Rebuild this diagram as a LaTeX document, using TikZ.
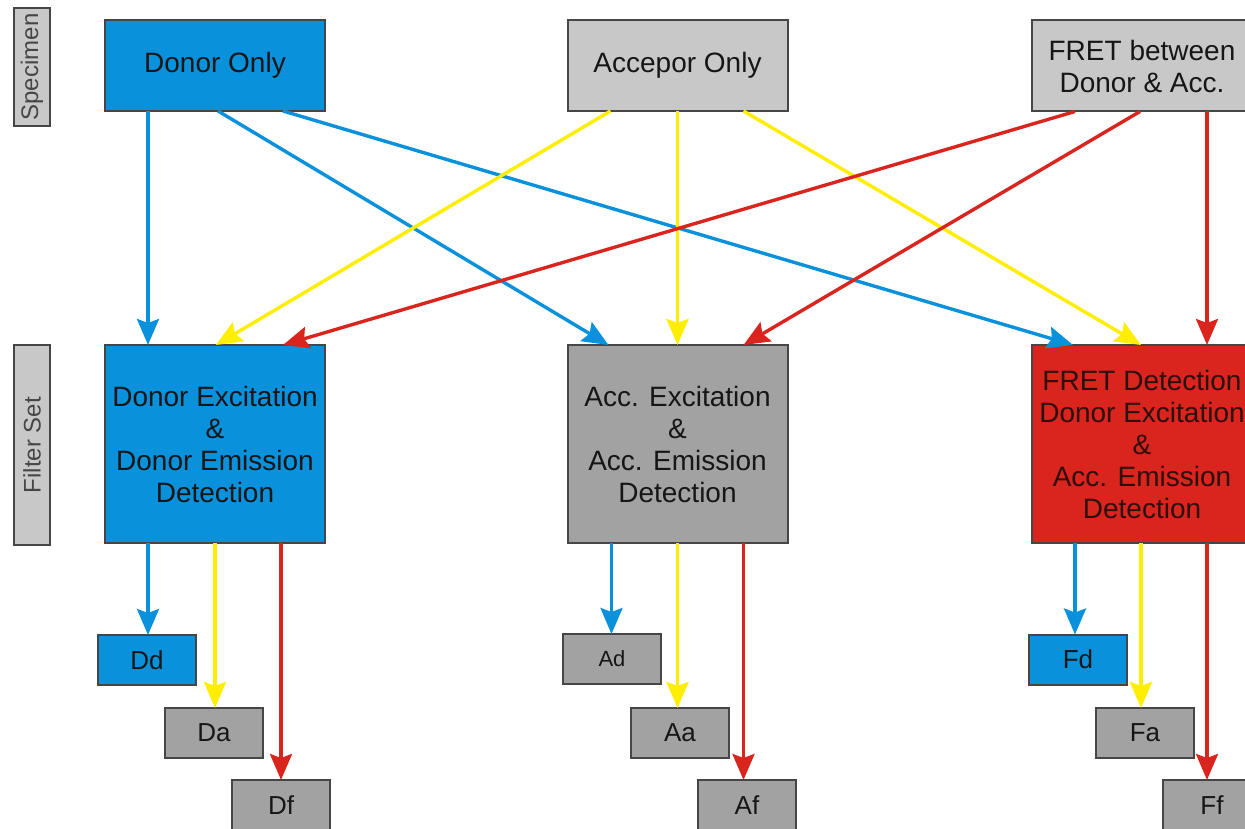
\documentclass[tikz,border=0pt]{standalone}
\usepackage{fontspec}
\setmainfont{Liberation Sans}
\usetikzlibrary{arrows.meta}
\definecolor{cblue}{RGB}{10,145,220}
\definecolor{cyel}{RGB}{255,238,0}
\definecolor{cred}{RGB}{218,36,30}
\definecolor{lgray}{RGB}{200,200,200}
\definecolor{mgray}{RGB}{162,162,162}
\definecolor{bord}{RGB}{70,70,70}
\definecolor{txt}{RGB}{22,22,22}
\begin{document}
\begin{tikzpicture}[x=1pt,y=-1pt,
  box/.style={draw=bord, line width=2pt, inner sep=0pt, outer sep=0pt, text=txt, align=center, font=\fontsize{28}{32}\selectfont},
  big/.style={box, minimum width=220pt, minimum height=91pt},
  filt/.style={box, minimum width=220pt, minimum height=198pt},
  small/.style={box, minimum width=98pt, minimum height=50pt, font=\fontsize{26}{30}\selectfont},
  side/.style={box, fill=lgray, rotate=90, minimum height=36pt, font=\fontsize{24}{28}\selectfont, text=bord},
  conn/.style={line width=3.4pt, -{Stealth[length=26pt,width=22pt,inset=4pt]}},
  bl/.style={conn, draw=cblue, fill=cblue},
  ye/.style={conn, draw=cyel, fill=cyel},
  re/.style={conn, draw=cred, fill=cred}
]
\useasboundingbox (0,0) rectangle (1245,829);
\clip (0,0) rectangle (1245,829);
\fill[white] (0,0) rectangle (1245,829);

% side labels
\node[side, minimum width=118pt] (spec) at (32,67) {Specimen};
\node[side, minimum width=200pt] (fset) at (32,445) {Filter Set};

% specimen boxes
\node[big, fill=cblue] (don) at (215,65.5) {Donor Only};
\node[big, fill=lgray] (acc) at (677.5,65.5) {Accepor Only};
\node[big, fill=lgray] (fre) at (1142,66) {FRET between\\Donor \& Acc.};

% filter set boxes
\node[filt, fill=cblue] (dex) at (215,444) {Donor Excitation\\\&\\Donor Emission\\Detection};
\node[filt, fill=mgray] (aex) at (677.5,444) {Acc. Excitation\\\&\\Acc. Emission\\Detection};
\node[filt, fill=cred, text={rgb,255:red,45;green,15;blue,12}] (fex) at (1142,444) {FRET Detection\\Donor Excitation\\\&\\Acc. Emission\\Detection};

% result boxes
\node[small, fill=cblue] (dd) at (147,660) {Dd};
\node[small, fill=mgray] (da) at (214,733) {Da};
\node[small, fill=mgray] (df) at (281,805) {Df};
\node[small, fill=mgray, font=\fontsize{22}{26}\selectfont] (ad) at (612,659) {Ad};
\node[small, fill=mgray] (aa) at (680,733) {Aa};
\node[small, fill=mgray] (af) at (747,805) {Af};
\node[small, fill=cblue] (fd) at (1078,659.5) {Fd};
\node[small, fill=mgray] (fa) at (1145,733) {Fa};
\node[small, fill=mgray] (ff) at (1212,805) {Ff};

% specimen -> filter set
\draw[bl] ([xshift=-67pt]don.south) -- ([xshift=-67pt]dex.north);
\draw[bl] ([xshift=3pt]don.south) -- ([xshift=-69pt]aex.north);
\draw[bl] ([xshift=68pt]don.south) -- ([xshift=-69pt]fex.north);
\draw[ye] ([xshift=-67pt]acc.south) -- ([xshift=1pt]dex.north);
\draw[ye] (acc.south) -- (aex.north);
\draw[ye] ([xshift=66pt]acc.south) -- ([xshift=-1pt]fex.north);
\draw[re] ([xshift=-67pt]fre.south) -- ([xshift=68pt]dex.north);
\draw[re] ([xshift=-2pt]fre.south) -- ([xshift=66pt]aex.north);
\draw[re] ([xshift=65pt]fre.south) -- ([xshift=65pt]fex.north);

% filter set -> results
\draw[bl] ([xshift=-67pt]dex.south) -- ([xshift=-67pt]dex.south |- dd.north);
\draw[ye] (dex.south) -- (dex.south |- da.north);
\draw[re] ([xshift=66pt]dex.south) -- ([xshift=66pt]dex.south |- df.north);
\draw[bl] ([xshift=-66pt]aex.south) -- ([xshift=-66pt]aex.south |- ad.north);
\draw[ye] (aex.south) -- (aex.south |- aa.north);
\draw[re] ([xshift=66pt]aex.south) -- ([xshift=66pt]aex.south |- af.north);
\draw[bl] ([xshift=-67pt]fex.south) -- ([xshift=-67pt]fex.south |- fd.north);
\draw[ye] ([xshift=-1pt]fex.south) -- ([xshift=-1pt]fex.south |- fa.north);
\draw[re] ([xshift=65pt]fex.south) -- ([xshift=65pt]fex.south |- ff.north);
\end{tikzpicture}
\end{document}
